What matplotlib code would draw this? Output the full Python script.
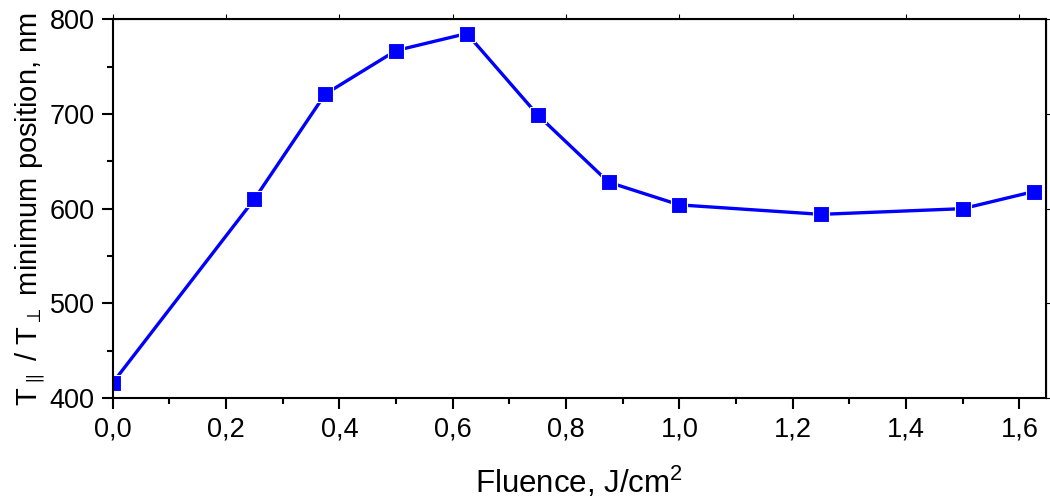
import matplotlib
matplotlib.use('Agg')
import matplotlib.pyplot as plt
from matplotlib.ticker import MultipleLocator, FuncFormatter

plt.rcParams['font.family'] = ['Liberation Sans', 'DejaVu Sans']
plt.rcParams['mathtext.fontset'] = 'custom'
plt.rcParams['mathtext.rm'] = 'Liberation Sans'

# data
fluence = [0.0, 0.25, 0.375, 0.5, 0.625, 0.75, 0.875, 1.0, 1.25, 1.5, 1.625]
min_position = [416, 610, 721, 767, 785, 699, 628, 604, 594, 600, 618]

fig = plt.figure(figsize=(10.5, 5.03), dpi=100)
ax = fig.add_axes([0.1073, 0.2087, 0.8889, 0.7529])

ax.plot(fluence, min_position, color='#0000ff', linewidth=2.4,
        marker='s', markersize=12, markeredgecolor='white', markeredgewidth=0.8)

ax.set_xlim(0, 1.647)
ax.set_ylim(400, 800)
ax.xaxis.set_major_locator(MultipleLocator(0.2))
ax.xaxis.set_minor_locator(MultipleLocator(0.1))
ax.yaxis.set_major_locator(MultipleLocator(100))
ax.yaxis.set_minor_locator(MultipleLocator(50))
ax.xaxis.set_major_formatter(FuncFormatter(lambda v, p: f'{v:.1f}'.replace('.', ',')))

for s in ax.spines.values():
    s.set_linewidth(1.5)

ax.tick_params(which='both', direction='out', width=1.5, labelsize=19.5, top=False, right=False)
ax.tick_params(which='major', length=8)
ax.tick_params(which='minor', length=4)
ax.tick_params(axis='x', which='major', pad=5.5)
ax.tick_params(axis='y', which='major', pad=5)

# inward major ticks on top and right, no labels
ax.secondary_xaxis('top').set_xticks([0.2 * i for i in range(9)], labels=[])
ax.secondary_yaxis('right').set_yticks([400, 500, 600, 700, 800], labels=[])
for sec in fig.axes[1:]:
    sec.tick_params(direction='in', length=7, width=1.5)
    for s in sec.spines.values():
        s.set_linewidth(1.5)

ax.set_xlabel('Fluence, J/cm$^2$', fontsize=22.5, labelpad=16)
ax.set_ylabel(r'T$_{\parallel}$ / T$_{\perp}$ minimum position, nm', fontsize=21, labelpad=2)

fig.savefig('out.png', dpi=100)
